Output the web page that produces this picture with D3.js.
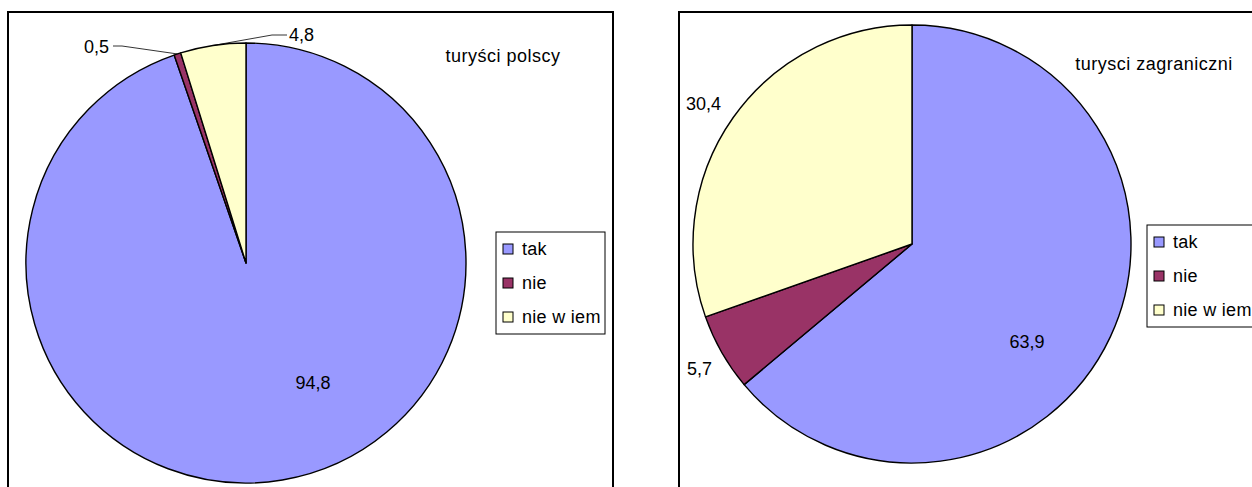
<!DOCTYPE html>
<html>
<head>
<meta charset="utf-8">
<script src="https://cdn.jsdelivr.net/npm/d3@7"></script>
<style>
  html, body { margin: 0; padding: 0; background: #fff; }
  svg { display: block; font-family: "Liberation Sans", Arial, sans-serif; }
</style>
</head>
<body>
<svg id="chart" width="1252" height="487"></svg>
<script>
// Answer categories shared by both pies
const categories = ["tak", "nie", "nie w iem"];
const colors = ["#9999FF", "#993366", "#FFFFCC"];

// Percent of answers per group
const polishValues = [94.8, 0.5, 4.8];
const foreignValues = [63.9, 5.7, 30.4];
const valueLabels = v => String(v).replace(".", ",");

const titles = ["turyści polscy", "turysci zagraniczni"];

const svg = d3.select("#chart");
const FS = 18;
const TITLE_SPACING = 0.5;
const LEGEND_SPACING = 0.3;

// Panel layout: frame, pie centre, legend box, title and label anchors
const panels = [
  {
    values: polishValues, title: titles[0],
    frame: [8, 12, 605, 500],
    cx: 246, cy: 263, r: 220,
    legend: [496, 232, 109, 102],
    titlePos: [503, 62],
    labels: [
      { at: [313, 389], anchor: "middle" },
      { at: [109, 53], anchor: "end", leader: [[113, 46], [122, 46]] },
      { at: [289, 41], anchor: "start", leader: [[287, 35], [272, 35]] }
    ]
  },
  {
    values: foreignValues, title: titles[1],
    frame: [679, 12, 600, 500],
    cx: 912, cy: 244, r: 219,
    legend: [1147, 225, 120, 102],
    titlePos: [1154, 70],
    labels: [
      { at: [1027, 348], anchor: "middle" },
      { at: [687, 375], anchor: "start" },
      { at: [686, 110], anchor: "start" }
    ]
  }
];

const pie = d3.pie().sort(null).value(d => d);

panels.forEach(p => {
  const g = svg.append("g");

  // Outer frame of the panel
  g.append("rect")
    .attr("x", p.frame[0]).attr("y", p.frame[1])
    .attr("width", p.frame[2]).attr("height", p.frame[3])
    .attr("fill", "#fff").attr("stroke", "#000").attr("stroke-width", 2);

  const arc = d3.arc().innerRadius(0).outerRadius(p.r);
  const arcs = pie(p.values);
  const pg = g.append("g").attr("transform", `translate(${p.cx},${p.cy})`);

  pg.selectAll("path.slice")
    .data(arcs)
    .join("path")
    .attr("class", "slice")
    .attr("d", arc)
    .attr("fill", (d, i) => colors[i])
    .attr("stroke", "#000")
    .attr("stroke-width", 1.4)
    .attr("stroke-linejoin", "round");

  // Value labels, with leader lines to the slice edge where needed
  arcs.forEach((d, i) => {
    const L = p.labels[i];
    if (L.leader) {
      const mid = (d.startAngle + d.endAngle) / 2;
      const ex = p.cx + p.r * Math.sin(mid);
      const ey = p.cy - p.r * Math.cos(mid);
      g.append("path")
        .attr("d", d3.line()([L.leader[0], L.leader[1], [ex, ey]]))
        .attr("fill", "none").attr("stroke", "#000").attr("stroke-width", 0.8);
    }
    g.append("text")
      .attr("x", L.at[0]).attr("y", L.at[1])
      .attr("text-anchor", L.anchor)
      .attr("font-size", FS)
      .text(valueLabels(d.data));
  });

  // Panel title
  g.append("text")
    .attr("x", p.titlePos[0]).attr("y", p.titlePos[1])
    .attr("text-anchor", "middle")
    .attr("font-size", FS)
    .attr("letter-spacing", TITLE_SPACING)
    .text(p.title);

  // Legend
  const lg = g.append("g");
  lg.append("rect")
    .attr("x", p.legend[0]).attr("y", p.legend[1])
    .attr("width", p.legend[2]).attr("height", p.legend[3])
    .attr("fill", "#fff").attr("stroke", "#000").attr("stroke-width", 1);
  const rowY = d3.scalePoint().domain(categories).range([p.legend[1] + 17, p.legend[1] + p.legend[3] - 17]);
  categories.forEach((c, i) => {
    lg.append("rect")
      .attr("x", p.legend[0] + 7).attr("y", rowY(c) - 5)
      .attr("width", 10).attr("height", 10)
      .attr("fill", colors[i]).attr("stroke", "#000").attr("stroke-width", 1);
    lg.append("text")
      .attr("x", p.legend[0] + 26).attr("y", rowY(c) + 6)
      .attr("font-size", FS)
      .attr("letter-spacing", LEGEND_SPACING)
      .text(c);
  });
});
</script>
</body>
</html>
